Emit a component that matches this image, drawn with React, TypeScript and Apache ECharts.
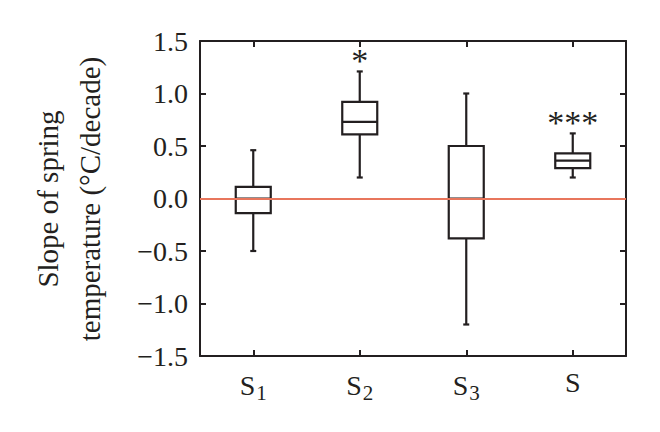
import React, { useEffect, useRef } from "react";
import * as echarts from "echarts";

const categories = ["S1", "S2", "S3", "S"];
const subscripts = ["1", "2", "3", ""];
// [low, q1, median, q3, high]
const boxValues = [
  [-0.5, -0.14, 0.0, 0.11, 0.46],
  [0.2, 0.61, 0.73, 0.92, 1.21],
  [-1.2, -0.38, 0.0, 0.5, 1.0],
  [0.2, 0.29, 0.36, 0.43, 0.62],
];
const significance = ["", "*", "", "***"];
const yTicks = { min: -1.5, max: 1.5, interval: 0.5 };
const yTitle = ["Slope of spring", "temperature (\u00b0C/decade)"];

const FONT = "Liberation Serif";
const INK = "#231f20";

export default function App() {
  const ref = useRef<HTMLDivElement>(null);
  useEffect(() => {
    if (!ref.current) return;
    const chart = echarts.init(ref.current, undefined, { renderer: "svg" });
    const data = boxValues.map((v, i) => [i, ...v]);
    const fmt = (v: number) => (v < 0 ? "\u2212" : "") + Math.abs(v).toFixed(1);
    const axisLine = { show: true, onZero: false, lineStyle: { color: INK, width: 2 } };
    const tick = { show: true, inside: true, length: 6, lineStyle: { color: INK, width: 2 } };
    chart.setOption({
      animation: false,
      backgroundColor: "#ffffff",
      grid: { left: 200, right: 34, top: 41, bottom: 76 },
      xAxis: [
        {
          type: "category",
          data: categories,
          boundaryGap: true,
          axisLine,
          axisTick: { ...tick, alignWithLabel: true },
          axisLabel: {
            margin: 12,
            formatter: (_: string, i: number) =>
              subscripts[i] ? `{a|S}{b|${subscripts[i]}}` : `{a|S}`,
            rich: {
              a: { fontFamily: FONT, fontSize: 28, color: INK },
              b: { fontFamily: FONT, fontSize: 21, color: INK, padding: [14, 0, 0, 1] },
            },
          },
          splitLine: { show: false },
        },
        {
          type: "category",
          data: categories,
          position: "top",
          boundaryGap: true,
          axisLine,
          axisTick: { ...tick, alignWithLabel: true },
          axisLabel: { show: false },
          splitLine: { show: false },
        },
      ],
      yAxis: [
        {
          type: "value",
          min: yTicks.min,
          max: yTicks.max,
          interval: yTicks.interval,
          axisLine,
          axisTick: tick,
          axisLabel: { formatter: fmt, fontFamily: FONT, fontSize: 28, color: INK, margin: 12 },
          splitLine: { show: false },
        },
        {
          type: "value",
          position: "right",
          min: yTicks.min,
          max: yTicks.max,
          interval: yTicks.interval,
          axisLine,
          axisTick: tick,
          axisLabel: { show: false },
          splitLine: { show: false },
        },
      ],
      graphic: [
        {
          type: "text",
          x: 69,
          y: 199,
          rotation: Math.PI / 2,
          style: {
            text: yTitle.join("\n"),
            fontFamily: FONT,
            fontSize: 29,
            lineHeight: 42,
            fill: INK,
            align: "center",
            verticalAlign: "middle",
          },
        },
      ],
      series: [
        {
          type: "line",
          data: [],
          markLine: {
            symbol: "none",
            silent: true,
            label: { show: false },
            lineStyle: { color: "#e8765c", width: 2, type: "solid" },
            data: [{ yAxis: 0 }],
          },
        },
        {
          type: "custom",
          data,
          encode: { x: 0, y: [1, 2, 3, 4, 5] },
          z: 1,
          renderItem: (params: any, api: any) => {
            const i = api.value(0);
            const low = api.coord([i, api.value(1)]);
            const q1 = api.coord([i, api.value(2)]);
            const med = api.coord([i, api.value(3)]);
            const q3 = api.coord([i, api.value(4)]);
            const high = api.coord([i, api.value(5)]);
            const x = low[0];
            const hw = 17.5;
            const cap = 3;
            const ls = { stroke: INK, lineWidth: 2.2 };
            const children: any[] = [
              { type: "line", shape: { x1: x, y1: low[1], x2: x, y2: q1[1] }, style: ls },
              { type: "line", shape: { x1: x, y1: q3[1], x2: x, y2: high[1] }, style: ls },
              { type: "line", shape: { x1: x - cap, y1: low[1], x2: x + cap, y2: low[1] }, style: ls },
              { type: "line", shape: { x1: x - cap, y1: high[1], x2: x + cap, y2: high[1] }, style: ls },
              {
                type: "rect",
                shape: { x: x - hw, y: q3[1], width: 2 * hw, height: q1[1] - q3[1] },
                style: { ...ls, fill: "none" },
              },
              { type: "line", shape: { x1: x - hw, y1: med[1], x2: x + hw, y2: med[1] }, style: ls },
            ];
            const sig = significance[i];
            if (sig) {
              children.push({
                type: "text",
                x,
                y: high[1] + 6,
                style: {
                  text: sig,
                  fontFamily: FONT,
                  fontSize: 34,
                  fill: INK,
                  align: "center",
                  verticalAlign: "bottom",
                },
              });
            }
            return { type: "group", children };
          },
        },
      ],
    });
    return () => chart.dispose();
  }, []);
  return <div ref={ref} style={{ width: 660, height: 432, margin: -8 }} />;
}
